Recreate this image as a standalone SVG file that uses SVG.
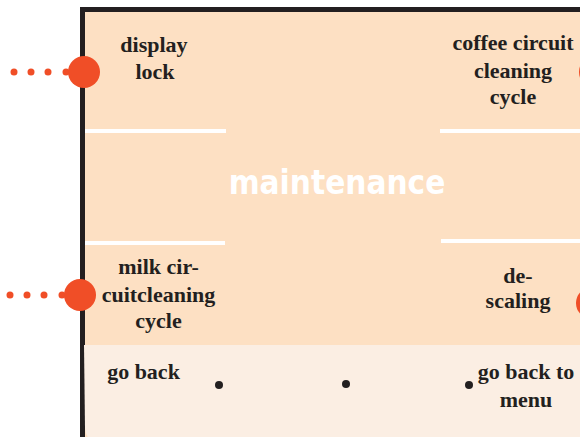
<svg xmlns="http://www.w3.org/2000/svg" width="580" height="437" viewBox="0 0 580 437">
  <style>
    .lbl { font-family: "Liberation Serif", "Times New Roman", serif; font-weight: bold; font-size: 22px; fill: #231f20; text-anchor: middle; }
    .title { font-family: "DejaVu Sans Condensed", "DejaVu Sans", sans-serif; font-stretch: condensed; font-weight: bold; font-size: 33px; fill: #ffffff; text-anchor: middle; }
    .rule { stroke: #ffffff; stroke-width: 4; }
    .port { fill: #f04e27; }
    .dot { fill: #231f20; }
  </style>
  <rect width="580" height="437" fill="#ffffff"/>

  <!-- device panel -->
  <g id="panel">
    <rect x="82.5" y="9.5" width="520" height="460" fill="#fde0c3" stroke="#231f20" stroke-width="5"/>
    <path d="M84 345 H604 V441 H97 Q86 441 85 428 Z" fill="#fbeee3"/>
    <line class="rule" x1="85" y1="131" x2="226" y2="131"/>
    <line class="rule" x1="440" y1="131" x2="580" y2="131"/>
    <line class="rule" x1="85" y1="243" x2="225" y2="243"/>
    <line class="rule" x1="441" y1="241" x2="580" y2="241"/>
    <text class="title" x="337" y="194">maintenance</text>
  </g>

  <!-- dotted leaders and ports -->
  <g id="connectors">
    <g class="port">
      <circle cx="14" cy="72" r="3.5"/><circle cx="31" cy="72" r="3.5"/><circle cx="48" cy="72" r="3.5"/><circle cx="66" cy="72" r="3.5"/>
      <circle cx="10" cy="295" r="3.5"/><circle cx="27" cy="295" r="3.5"/><circle cx="44" cy="295" r="3.5"/><circle cx="62" cy="295" r="3.5"/>
    </g>
    <circle class="dot" cx="219" cy="385" r="4"/>
    <circle class="dot" cx="346" cy="384" r="4"/>
    <circle class="dot" cx="469" cy="385" r="4"/>
  </g>

  <g id="display-lock">
    <circle class="port" cx="84" cy="72" r="16"/>
    <text class="lbl" x="154" y="52">display</text>
    <text class="lbl" x="155" y="79">lock</text>
  </g>

  <g id="coffee-circuit">
    <circle class="port" cx="595" cy="72" r="16"/>
    <text class="lbl" x="513" y="50">coffee circuit</text>
    <text class="lbl" x="513" y="78">cleaning</text>
    <text class="lbl" x="513" y="104">cycle</text>
  </g>

  <g id="milk-circuit">
    <circle class="port" cx="80" cy="295" r="16"/>
    <text class="lbl" x="158.5" y="274">milk cir-</text>
    <text class="lbl" x="158.5" y="302">cuitcleaning</text>
    <text class="lbl" x="158.5" y="328">cycle</text>
  </g>

  <g id="descaling">
    <circle class="port" cx="592" cy="303" r="16"/>
    <text class="lbl" x="518" y="283">de-</text>
    <text class="lbl" x="518" y="308">scaling</text>
  </g>

  <g id="go-back">
    <text class="lbl" x="143.5" y="379">go back</text>
  </g>

  <g id="go-back-menu">
    <text class="lbl" x="526" y="379">go back to</text>
    <text class="lbl" x="526" y="407">menu</text>
  </g>
</svg>
